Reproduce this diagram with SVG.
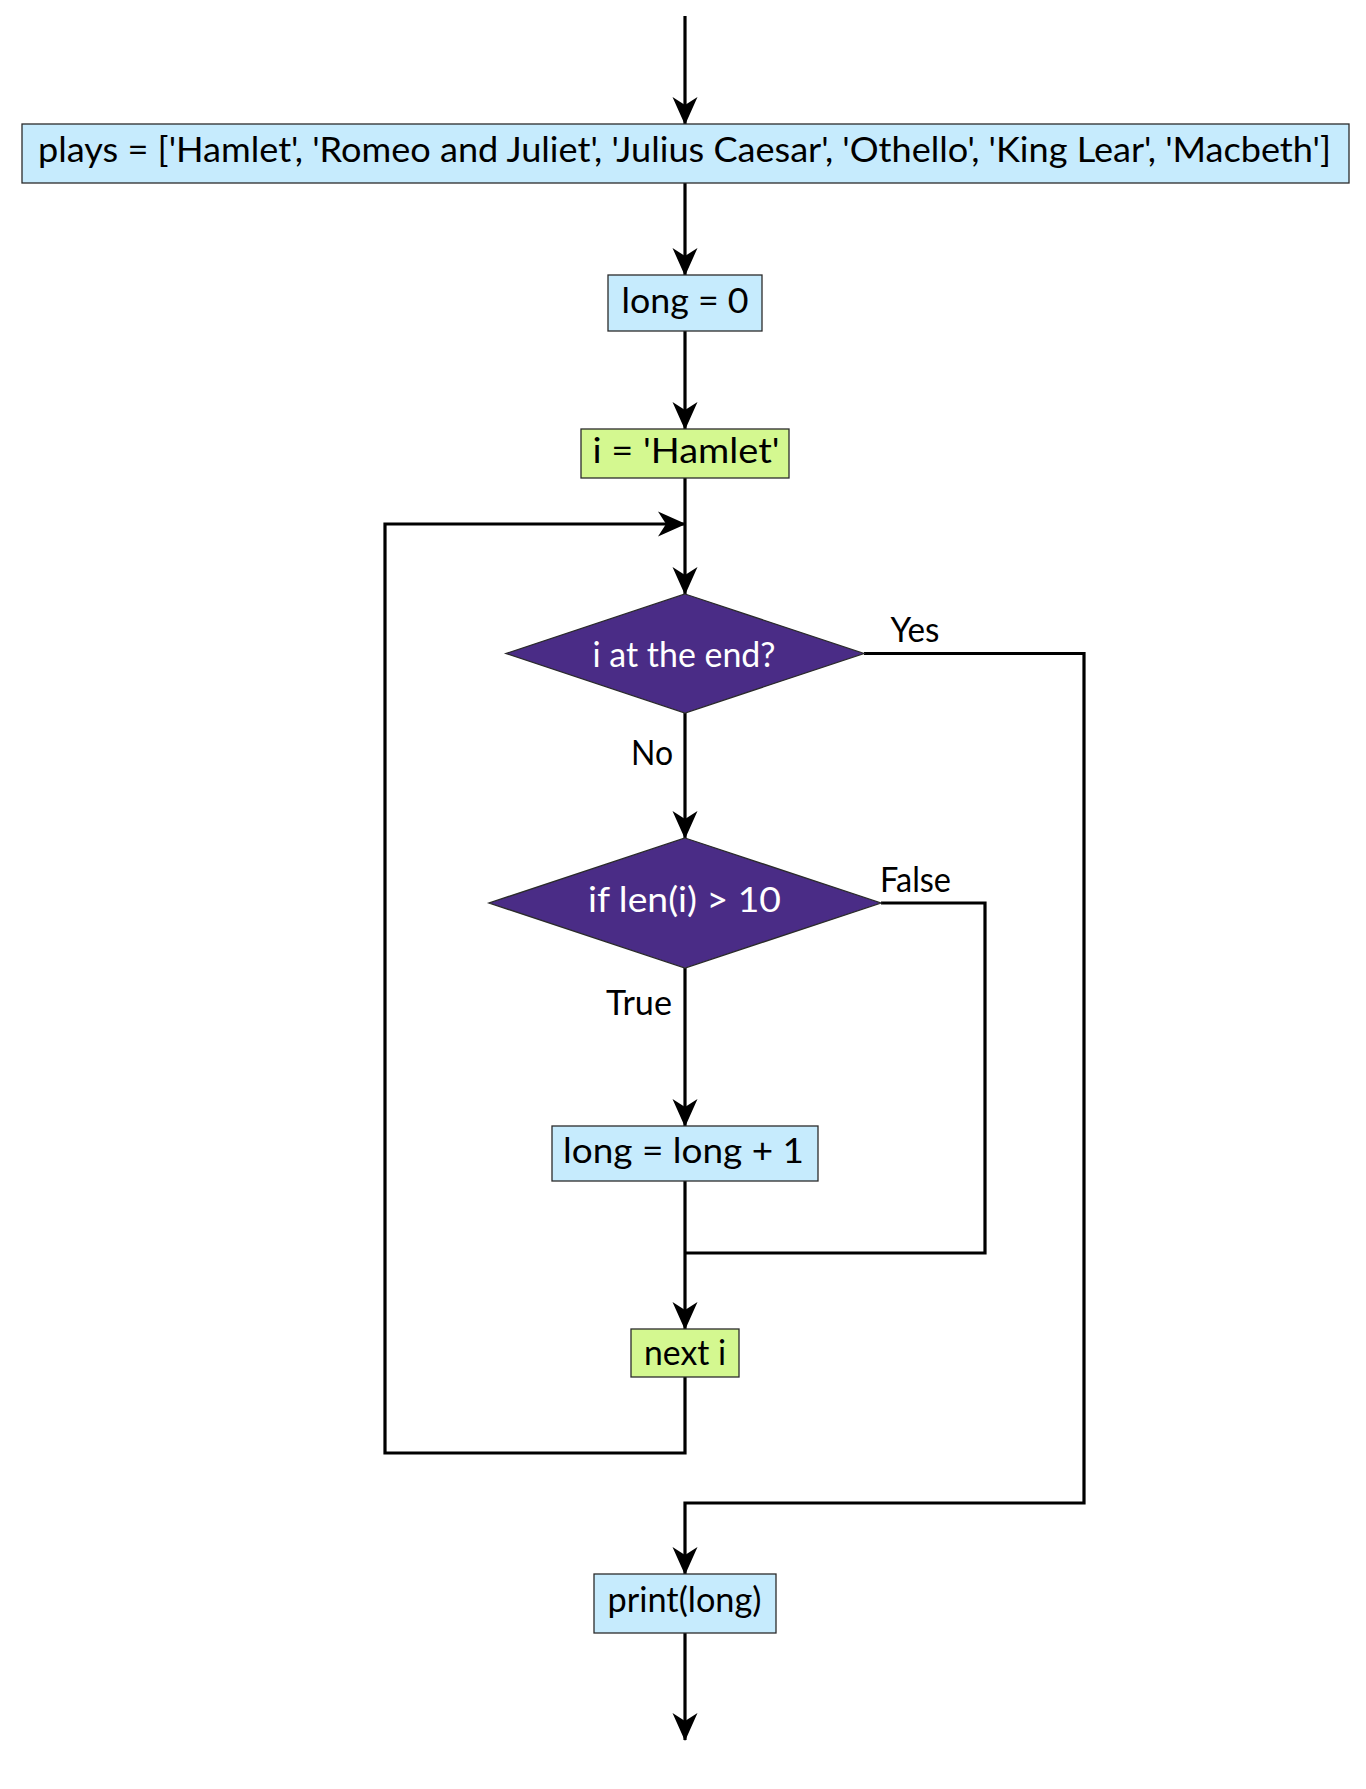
<svg xmlns="http://www.w3.org/2000/svg" width="1366" height="1789" viewBox="0 0 1366 1789">
  <style>
    text { font-family: Lato, "Open Sans", "DejaVu Sans", sans-serif; font-size: 35px; text-anchor: middle; }
    .box { stroke: #2b2b2b; stroke-width: 1.3; }
    .blue { fill: #c6ebfd; }
    .green { fill: #d4f890; }
    .decision { fill: #4a2c86; stroke: #2b2b2b; stroke-width: 1.3; }
    .dtext { fill: #ffffff; }
    .label { fill: #000000; }
    .edge { fill: none; stroke: #000000; stroke-width: 3.2; stroke-linejoin: miter; }
  </style>
  <defs>
    <!-- stealth-style arrowhead, tip at the path end -->
    <marker id="arrow" markerUnits="userSpaceOnUse" markerWidth="32" markerHeight="28" viewBox="-29 -14 32 28" refX="0" refY="0" orient="auto">
      <path d="M1,0 L-27,-12.5 L-19,0 L-27,12.5 Z" fill="#000000"/>
    </marker>
  </defs>

  <rect width="1366" height="1789" fill="#ffffff"/>

  <!-- connectors -->
  <g id="connectors">
    <path class="edge" d="M685,16 V124" marker-end="url(#arrow)"/>
    <path class="edge" d="M685,183 V275" marker-end="url(#arrow)"/>
    <path class="edge" d="M685,331 V429" marker-end="url(#arrow)"/>
    <path class="edge" d="M685,478 V594" marker-end="url(#arrow)"/>
    <path class="edge" d="M685,713 V838" marker-end="url(#arrow)"/>
    <path class="edge" d="M685,968 V1126" marker-end="url(#arrow)"/>
    <path class="edge" d="M881,903 H985 V1253 H685"/>
    <path class="edge" d="M685,1181 V1329" marker-end="url(#arrow)"/>
    <path class="edge" d="M685,1377 V1453 H385 V524 H685" marker-end="url(#arrow)"/>
    <path class="edge" d="M864,653.5 H1084 V1503 H685 V1574" marker-end="url(#arrow)"/>
    <path class="edge" d="M685,1633 V1740" marker-end="url(#arrow)"/>
    <text class="label" x="915" y="642" textLength="49" lengthAdjust="spacingAndGlyphs">Yes</text>
    <text class="label" x="652" y="765" textLength="42" lengthAdjust="spacingAndGlyphs">No</text>
    <text class="label" x="915.5" y="892" textLength="71" lengthAdjust="spacingAndGlyphs">False</text>
    <text class="label" x="639" y="1015" textLength="66" lengthAdjust="spacingAndGlyphs">True</text>
  </g>

  <!-- nodes -->
  <g id="plays">
    <rect class="box blue" x="22" y="124" width="1327" height="59"/>
    <text x="684.5" y="162" textLength="1293" lengthAdjust="spacingAndGlyphs">plays = ['Hamlet', 'Romeo and Juliet', 'Julius Caesar', 'Othello', 'King Lear', 'Macbeth']</text>
  </g>
  <g id="long-init">
    <rect class="box blue" x="608" y="275" width="154" height="56"/>
    <text x="685" y="313" textLength="127" lengthAdjust="spacingAndGlyphs">long = 0</text>
  </g>
  <g id="i-init">
    <rect class="box green" x="581" y="429" width="208" height="49"/>
    <text x="686" y="463" textLength="187" lengthAdjust="spacingAndGlyphs">i = 'Hamlet'</text>
  </g>
  <g id="at-end">
    <polygon class="decision" points="685,594 864,653.5 685,713 506,653.5"/>
    <text class="dtext" x="684" y="667" textLength="183" lengthAdjust="spacingAndGlyphs">i at the end?</text>
  </g>
  <g id="len-check">
    <polygon class="decision" points="685,838 881,903 685,968 489,903"/>
    <text class="dtext" x="684.5" y="912" textLength="193" lengthAdjust="spacingAndGlyphs">if len(i) &gt; 10</text>
  </g>
  <g id="long-inc">
    <rect class="box blue" x="552" y="1126" width="266" height="55"/>
    <text x="683.5" y="1163" textLength="241" lengthAdjust="spacingAndGlyphs">long = long + 1</text>
  </g>
  <g id="next-i">
    <rect class="box green" x="631" y="1329" width="108" height="48"/>
    <text x="685" y="1365" textLength="82" lengthAdjust="spacingAndGlyphs">next i</text>
  </g>
  <g id="print">
    <rect class="box blue" x="594" y="1574" width="182" height="59"/>
    <text x="684.5" y="1612" textLength="154" lengthAdjust="spacingAndGlyphs">print(long)</text>
  </g>
</svg>
